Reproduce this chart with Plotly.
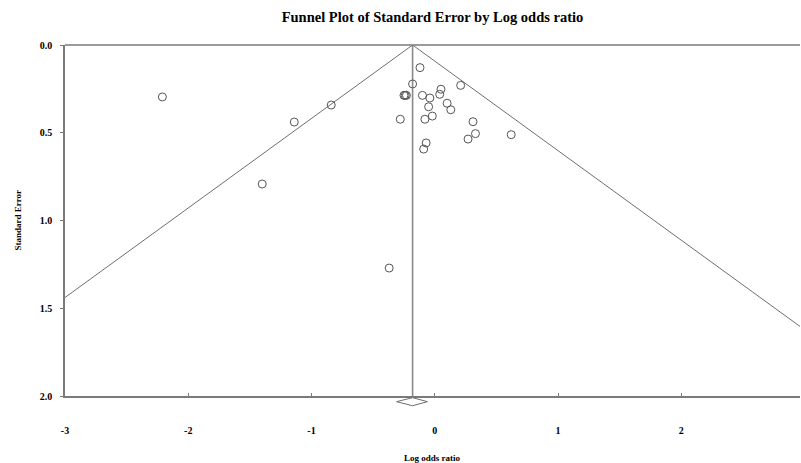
import plotly.graph_objects as go

# Study-level data
log_odds = [-2.21, -1.14, -0.84, -1.40, -0.37,
            -0.12, -0.18, -0.25, -0.24, -0.23, -0.10, -0.04, 0.05, 0.04, 0.21,
            0.10, 0.13, -0.05, -0.02, -0.08, -0.28, 0.31, 0.33, 0.27, 0.62,
            -0.07, -0.09]
std_err = [0.296, 0.439, 0.342, 0.792, 1.271,
           0.129, 0.222, 0.287, 0.287, 0.287, 0.287, 0.302, 0.252, 0.281, 0.230,
           0.332, 0.369, 0.352, 0.405, 0.423, 0.423, 0.437, 0.505, 0.536, 0.511,
           0.558, 0.593]

# Summary effect and its confidence interval
summary_effect = -0.18
ci_low = -0.31
ci_high = -0.06
z = 1.96
se_max = 2.0

x_ticks = [-3, -2, -1, 0, 1, 2]
y_ticks = [0.0, 0.5, 1.0, 1.5, 2.0]

fig = go.Figure()

# Funnel (pseudo 95% limits)
fig.add_trace(go.Scatter(
    x=[summary_effect - z * se_max, summary_effect, summary_effect + z * se_max],
    y=[se_max, 0, se_max],
    mode="lines", line=dict(color="#6e6e6e", width=1),
    hoverinfo="skip", showlegend=False))

# Vertical line at summary effect
fig.add_trace(go.Scatter(
    x=[summary_effect, summary_effect], y=[0, se_max],
    mode="lines", line=dict(color="#8a8a8a", width=1.6),
    hoverinfo="skip", showlegend=False))

# Studies
fig.add_trace(go.Scatter(
    x=log_odds, y=std_err, mode="markers",
    marker=dict(symbol="circle-open", size=8, color="#555555",
                line=dict(width=1, color="#555555")),
    showlegend=False))

font_fam = "Liberation Serif, Times New Roman, serif"

# Summary diamond below the axis
yc, yh = -0.0162, 0.0115
fig.add_shape(type="path",
              xref="x", yref="paper",
              path=f"M {ci_low},{yc} L {summary_effect},{yc + yh} L {ci_high},{yc} L {summary_effect},{yc - yh} Z",
              line=dict(color="#6e6e6e", width=1), fillcolor="white")

fig.update_layout(
    width=801, height=463,
    margin=dict(l=65, r=1, t=45, b=67),
    paper_bgcolor="white", plot_bgcolor="white",
    title=dict(text="Funnel Plot of Standard Error by Log odds ratio",
               x=0.5, xref="paper", y=1 - 17 / 463, yanchor="middle",
               font=dict(family=font_fam, size=14.5, color="black", weight="bold")),
    xaxis=dict(range=[-3, 2.963], tickvals=x_ticks, ticktext=[str(v) for v in x_ticks],
               showgrid=False, zeroline=False, showline=True, linecolor="#7a7a7a",
               linewidth=1.5, ticks="inside", ticklen=3, tickcolor="#7a7a7a",
               ticklabelstandoff=24,
               tickfont=dict(family=font_fam, size=10, color="black", weight="bold")),
    yaxis=dict(range=[2, 0], tickvals=y_ticks, ticktext=[f"{v:.1f}" for v in y_ticks],
               showgrid=False, zeroline=False, showline=True, linecolor="#7a7a7a",
               linewidth=1.5, ticks="outside", ticklen=3, tickcolor="#7a7a7a",
               ticklabelstandoff=6,
               tickfont=dict(family=font_fam, size=10, color="black", weight="bold")),
    shapes=list(fig.layout.shapes) + [
        dict(type="line", xref="paper", yref="paper", x0=0, x1=1, y0=1, y1=1,
             line=dict(color="#7a7a7a", width=1.5))
    ],
    annotations=[
        dict(text="Log odds ratio", xref="paper", yref="paper", x=0.5, y=0,
             yshift=-62, showarrow=False, yanchor="middle",
             font=dict(family=font_fam, size=9, color="black", weight="bold")),
        dict(text="Standard Error", xref="paper", yref="paper", x=0, y=0.5,
             xshift=-48, showarrow=False, textangle=-90, xanchor="center",
             font=dict(family=font_fam, size=9, color="black", weight="bold")),
    ],
)

fig.write_html("out.html")
